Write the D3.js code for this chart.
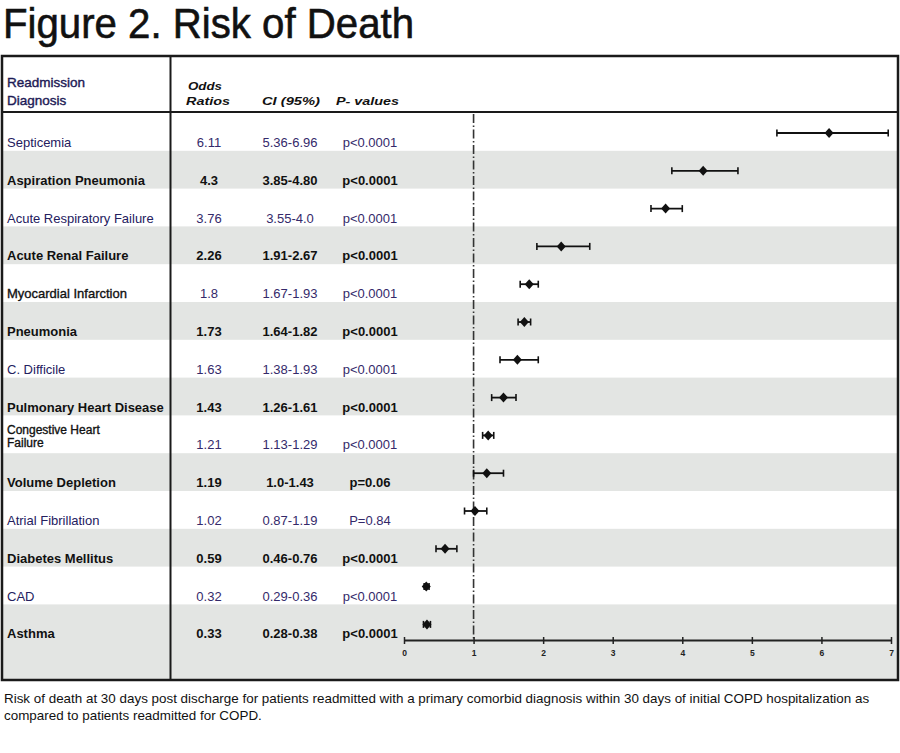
<!DOCTYPE html>
<html>
<head>
<meta charset="utf-8">
<script src="https://cdn.jsdelivr.net/npm/d3@7"></script>
<style>
  body { margin: 0; background: #fff; }
  text { font-family: Arial, 'Liberation Sans', sans-serif; }
</style>
</head>
<body>
<div id="chart"></div>
<script>
// data
const diagnoses = ['Septicemia', 'Aspiration Pneumonia', 'Acute Respiratory Failure', 'Acute Renal Failure',
  'Myocardial Infarction', 'Pneumonia', 'C. Difficile', 'Pulmonary Heart Disease',
  'Congestive Heart Failure', 'Volume Depletion', 'Atrial Fibrillation', 'Diabetes Mellitus', 'CAD', 'Asthma']
const oddsLabels = ['6.11', '4.3', '3.76', '2.26', '1.8', '1.73', '1.63', '1.43', '1.21', '1.19', '1.02', '0.59', '0.32', '0.33']
const ciLabels = ['5.36-6.96', '3.85-4.80', '3.55-4.0', '1.91-2.67', '1.67-1.93', '1.64-1.82', '1.38-1.93',
  '1.26-1.61', '1.13-1.29', '1.0-1.43', '0.87-1.19', '0.46-0.76', '0.29-0.36', '0.28-0.38']
const pLabels = ['p<0.0001', 'p<0.0001', 'p<0.0001', 'p<0.0001', 'p<0.0001', 'p<0.0001', 'p<0.0001',
  'p<0.0001', 'p<0.0001', 'p=0.06', 'P=0.84', 'p<0.0001', 'p<0.0001', 'p<0.0001']
const xTicks = [0, 1, 2, 3, 4, 5, 6, 7]

const rows = diagnoses.map((d, i) => {
  const ci = ciLabels[i].split('-').map(Number)
  return { name: d, or: +oddsLabels[i], lo: ci[0], hi: ci[1], orText: oddsLabels[i], ciText: ciLabels[i], pText: pLabels[i], i: i }
})

const W = 900
const H = 753
const box = { left: 2, right: 898, top: 56, bottom: 680 }
const headerBottom = 112
const rowH = 37.8

const svg = d3.select('#chart').append('svg')
  .attr('width', W)
  .attr('height', H)

const x = d3.scaleLinear().domain([0, 7]).range([404, 891])
const y = d3.scaleBand().domain(d3.range(rows.length))
  .range([headerBottom + 1, headerBottom + 1 + rowH * rows.length])

// title
svg.append('text')
  .attr('x', 3)
  .attr('y', 38)
  .attr('font-size', 42)
  .attr('textLength', 411)
  .attr('lengthAdjust', 'spacingAndGlyphs')
  .attr('fill', '#111')
  .attr('stroke', '#111')
  .attr('stroke-width', 0.6)
  .text('Figure 2. Risk of Death')

// striped rows (odd rows grey, last one runs to the bottom of the box)
svg.selectAll('.band')
  .data(rows.filter(d => d.i % 2 === 1))
  .enter()
  .append('rect')
  .attr('class', 'band')
  .attr('x', box.left)
  .attr('width', box.right - box.left)
  .attr('y', d => y(d.i))
  .attr('height', d => d.i === rows.length - 1 ? box.bottom - y(d.i) : y.bandwidth())
  .attr('fill', '#e3e5e3')

// reference line at OR = 1
svg.append('line')
  .attr('x1', x(1)).attr('x2', x(1))
  .attr('y1', headerBottom + 2).attr('y2', 640)
  .attr('stroke', '#333')
  .attr('stroke-width', 1.6)
  .attr('stroke-dasharray', '9,2.5,1.5,2.5')

// axis
const axis = svg.append('g')
  .attr('transform', 'translate(0,640)')
  .call(d3.axisBottom(x).tickValues(xTicks).tickFormat(d3.format('d'))
    .tickSize(4).tickSizeOuter(0).tickPadding(6))
axis.select('.domain').attr('stroke', '#222').attr('stroke-width', 2)
axis.selectAll('.tick line').attr('stroke', '#222').attr('stroke-width', 1.5).attr('y1', -3)
axis.selectAll('.tick text')
  .attr('font-size', 8.5)
  .attr('font-weight', 'bold')
  .attr('fill', '#222')
  .style('font-family', 'Arial, sans-serif')

// error bars
const bars = svg.selectAll('.err')
  .data(rows)
  .enter()
  .append('g')
  .attr('class', 'err')
  .attr('transform', d => 'translate(0,' + (y(d.i) + 20) + ')')

bars.append('line')
  .attr('x1', d => x(d.lo)).attr('x2', d => x(d.hi))
  .attr('stroke', '#111').attr('stroke-width', 1.8)
bars.append('line')
  .attr('x1', d => x(d.lo)).attr('x2', d => x(d.lo))
  .attr('y1', -3.5).attr('y2', 3.5)
  .attr('stroke', '#111').attr('stroke-width', 1.6)
bars.append('line')
  .attr('x1', d => x(d.hi)).attr('x2', d => x(d.hi))
  .attr('y1', -3.5).attr('y2', 3.5)
  .attr('stroke', '#111').attr('stroke-width', 1.6)
bars.append('path')
  .attr('d', d => {
    const cx = x(d.or)
    return 'M' + cx + ',-5L' + (cx + 4.5) + ',0L' + cx + ',5L' + (cx - 4.5) + ',0Z'
  })
  .attr('fill', '#111')

// table text
const blackLabels = ['Myocardial Infarction', 'Congestive Heart Failure']
const textRows = svg.selectAll('.row')
  .data(rows)
  .enter()
  .append('g')
  .attr('class', 'row')
  .attr('transform', d => 'translate(0,' + (y(d.i) + 34) + ')')
  .attr('font-size', 13)
  .attr('font-weight', d => d.i % 2 === 1 ? 'bold' : 'normal')

textRows.append('text')
  .attr('x', 7)
  .attr('fill', d => d.i % 2 === 1 || blackLabels.includes(d.name) ? '#111' : '#24205e')
  .attr('stroke', d => blackLabels.includes(d.name) ? '#111' : 'none')
  .attr('stroke-width', 0.35)
  .each(function(d) {
    const t = d3.select(this)
    if (d.name === 'Congestive Heart Failure') {
      t.attr('font-size', 12)
      t.append('tspan').attr('x', 7).attr('y', -15.5).text('Congestive Heart')
      t.append('tspan').attr('x', 7).attr('y', -2).text('Failure')
    } else {
      t.text(d.name)
    }
  })

const valueFill = d => d.i % 2 === 1 ? '#111' : '#34296a'
textRows.append('text')
  .attr('x', 209).attr('text-anchor', 'middle').attr('fill', valueFill)
  .text(d => d.orText)
textRows.append('text')
  .attr('x', 290).attr('text-anchor', 'middle').attr('fill', valueFill)
  .text(d => d.ciText)
textRows.append('text')
  .attr('x', 370).attr('text-anchor', 'middle').attr('fill', valueFill)
  .text(d => d.pText)

// header
svg.append('text').attr('x', 7).attr('y', 87).attr('font-size', 13.5).attr('fill', '#1d1a55')
  .attr('stroke', '#1d1a55').attr('stroke-width', 0.4).text('Readmission')
svg.append('text').attr('x', 7).attr('y', 105).attr('font-size', 13.5).attr('fill', '#1d1a55')
  .attr('stroke', '#1d1a55').attr('stroke-width', 0.4).text('Diagnosis')

const headStyle = (sel, w) => sel.attr('font-size', 11.5).attr('font-style', 'italic')
  .attr('font-weight', 'bold').attr('fill', '#111')
  .attr('textLength', w).attr('lengthAdjust', 'spacingAndGlyphs')
headStyle(svg.append('text').attr('x', 188).attr('y', 90).text('Odds'), 34)
headStyle(svg.append('text').attr('x', 186).attr('y', 105).text('Ratios'), 44)
headStyle(svg.append('text').attr('x', 262).attr('y', 105).text('CI (95%)'), 58)
headStyle(svg.append('text').attr('x', 336).attr('y', 105).text('P- values'), 63)

// table frame
const frame = svg.append('g').attr('stroke', '#1a1a1a').attr('fill', 'none')
frame.append('rect')
  .attr('x', box.left).attr('y', box.top)
  .attr('width', box.right - box.left).attr('height', box.bottom - box.top)
  .attr('stroke-width', 2.5)
frame.append('line')
  .attr('x1', box.left).attr('x2', box.right)
  .attr('y1', headerBottom).attr('y2', headerBottom)
  .attr('stroke-width', 2)
frame.append('line')
  .attr('x1', 170.5).attr('x2', 170.5)
  .attr('y1', box.top).attr('y2', box.bottom)
  .attr('stroke-width', 2)

// caption, fitted to the width it has in the figure
const caption = [
  'Risk of death at 30 days post discharge for patients readmitted with a primary comorbid diagnosis within 30 days of initial COPD hospitalization as',
  'compared to patients readmitted for COPD.'
]
const capText = svg.selectAll('.caption')
  .data(caption)
  .enter()
  .append('text')
  .attr('class', 'caption')
  .attr('x', 4)
  .attr('y', (d, i) => 703 + i * 17)
  .attr('font-size', 14)
  .attr('fill', '#111')
  .text(d => d)
// shrink the font until the first line is as wide as in the figure
const fs = 14 * 866 / capText.nodes()[0].getComputedTextLength()
capText.attr('font-size', fs)
</script>
</body>
</html>
